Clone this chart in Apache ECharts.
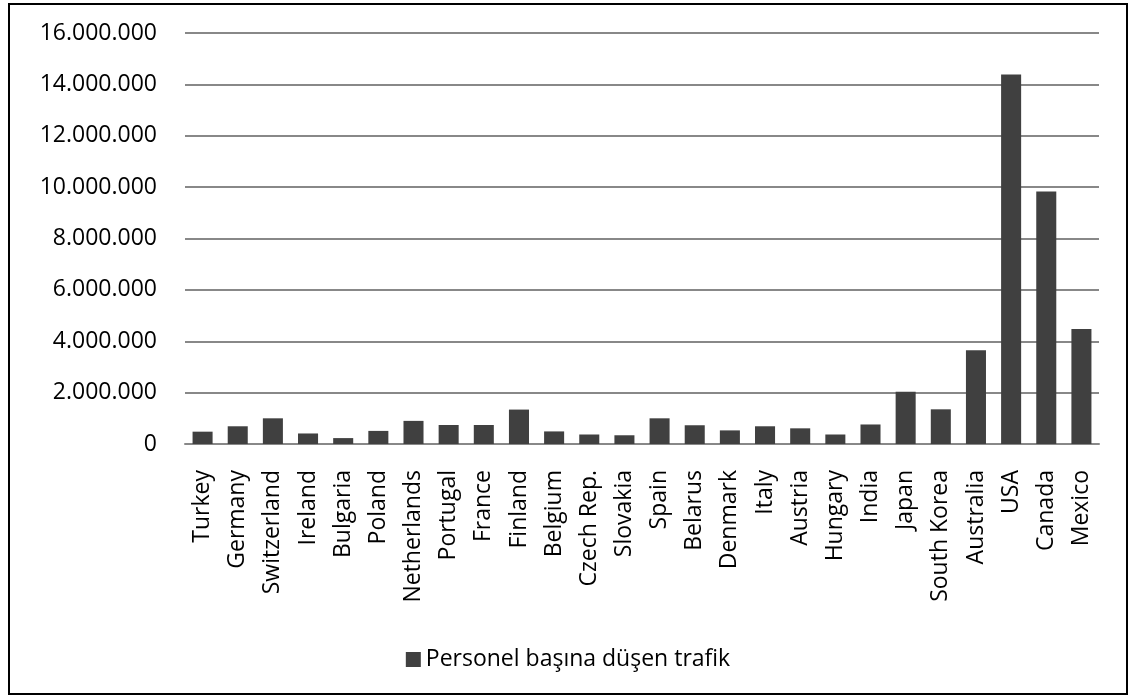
<!DOCTYPE html>
<html>
<head>
<meta charset="utf-8">
<script src="https://cdn.jsdelivr.net/npm/echarts@6/dist/echarts.min.js"></script>
<style>
    * { margin: 0; padding: 0; }
    body { background: #fff; width: 1129px; height: 695px; position: relative; }
    #main {
        position: absolute; left: 8px; top: 3px;
        width: 1120px; height: 692px;
        border: 2px solid #000; box-sizing: border-box;
    }
</style>
</head>
<body>
<div id="main"></div>
<script>
    // ülkeler
    var countries = ['Turkey', 'Germany', 'Switzerland', 'Ireland', 'Bulgaria', 'Poland',
        'Netherlands', 'Portugal', 'France', 'Finland', 'Belgium', 'Czech Rep.', 'Slovakia',
        'Spain', 'Belarus', 'Denmark', 'Italy', 'Austria', 'Hungary', 'India', 'Japan',
        'South Korea', 'Australia', 'USA', 'Canada', 'Mexico'];
    var traffic = [480000, 690000, 1000000, 410000, 230000, 510000,
        900000, 740000, 740000, 1340000, 490000, 370000, 340000,
        1000000, 730000, 530000, 690000, 610000, 370000, 760000, 2030000,
        1350000, 3650000, 14380000, 9830000, 4480000];
    var yTicks = [0, 2000000, 4000000, 6000000, 8000000, 10000000, 12000000, 14000000, 16000000];
    var seriesName = 'Personel başına düşen trafik';

    function fmt(v) {
        return String(v).replace(/\B(?=(\d{3})+(?!\d))/g, '.');
    }

    var chart = echarts.init(document.getElementById('main'));
    chart.setOption({
        animation: false,
        textStyle: { fontFamily: 'Open Sans' },
        grid: { left: 175, right: 27, top: 28, bottom: 249 },
        legend: {
            data: [seriesName],
            left: 'center',
            top: 638,
            itemWidth: 15,
            itemHeight: 15,
            itemGap: 5,
            icon: 'rect',
            textStyle: { fontSize: 23, color: '#000', fontFamily: 'Open Sans' }
        },
        xAxis: {
            type: 'category',
            data: countries,
            axisTick: { show: false },
            axisLine: { lineStyle: { color: '#888', width: 2 } },
            axisLabel: {
                rotate: 90, interval: 0, margin: 26,
                fontSize: 23, color: '#000', fontFamily: 'Open Sans'
            }
        },
        yAxis: {
            type: 'value',
            min: yTicks[0],
            max: yTicks[yTicks.length - 1],
            interval: yTicks[1] - yTicks[0],
            axisLine: { show: false },
            axisTick: { show: false },
            splitLine: { lineStyle: { color: '#888', width: 2 } },
            axisLabel: {
                margin: 28, fontSize: 23, color: '#000', fontFamily: 'Open Sans',
                formatter: fmt
            }
        },
        series: [{
            name: seriesName,
            type: 'bar',
            barCategoryGap: '43%',
            itemStyle: { color: '#404040' },
            data: traffic
        }]
    });
</script>
</body>
</html>
